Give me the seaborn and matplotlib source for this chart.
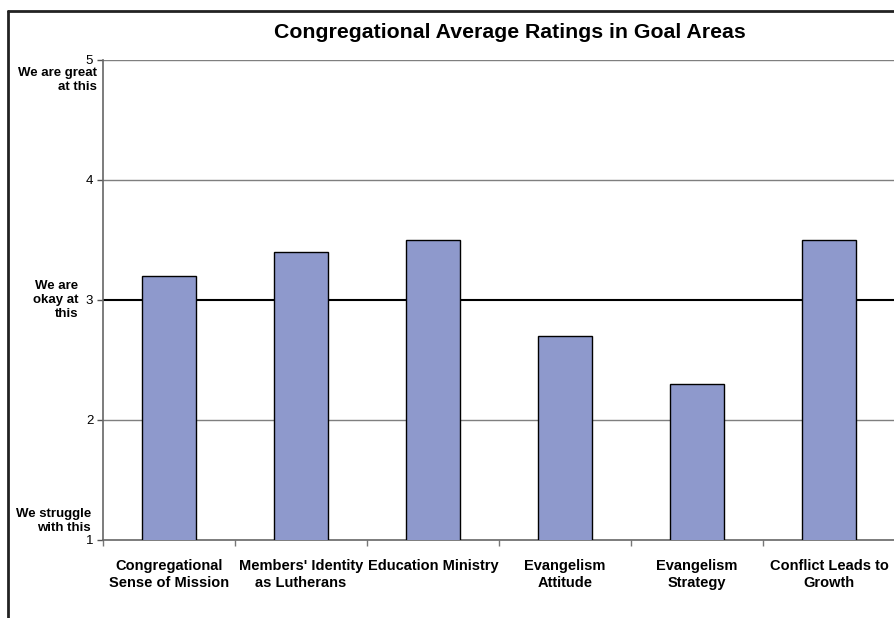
import matplotlib.pyplot as plt
import seaborn as sns
import pandas as pd
from matplotlib.lines import Line2D

# data
categories = ["Congregational\nSense of Mission", "Members' Identity\nas Lutherans",
              "Education Ministry", "Evangelism\nAttitude", "Evangelism\nStrategy",
              "Conflict Leads to\nGrowth"]
ratings = [3.2, 3.4, 3.5, 2.7, 2.3, 3.5]
y_ticks = [1, 2, 3, 4, 5]

df = pd.DataFrame({"area": categories, "rating": ratings})

sns.set_style("white")
plt.rcParams['font.family'] = ['Liberation Sans', 'DejaVu Sans']
plt.rcParams['text.color'] = 'black'
plt.rcParams['xtick.color'] = 'black'
plt.rcParams['ytick.color'] = 'black'

fig = plt.figure(figsize=(8.95, 6.18), dpi=100)
ax = fig.add_axes([103 / 895, 1 - 540 / 618, 792 / 895, 480 / 618])

sns.barplot(data=df, x="area", y="rating", color="#8E99CC", saturation=1,
            width=0.41, edgecolor="black", linewidth=1, ax=ax, zorder=3)

ax.set_ylim(1, 5)
ax.set_xlim(-0.5, len(categories) - 0.5)

# gridlines
for v in [2, 4, 5]:
    ax.axhline(v, color="#7f7f7f", linewidth=1, zorder=1)
ax.axhline(3, color="black", linewidth=1.5, zorder=1)

ax.set_yticks(y_ticks)
ax.set_yticklabels([str(t) for t in y_ticks], fontsize=9.5)
ax.tick_params(axis="y", direction="out", length=4, width=1, color="#555555", pad=3, left=True)
ax.set_xticks(range(len(categories)))
ax.set_xticklabels(categories, fontsize=10.5, fontweight="bold")
ax.tick_params(axis="x", length=0, pad=14)
ax.set_xticks([i + 0.5 for i in range(-1, len(categories))], minor=True)
ax.tick_params(axis="x", which="minor", direction="out", length=4, width=1, color="#777777", bottom=True)

for s in ["top", "right"]:
    ax.spines[s].set_visible(False)
for s in ["left", "bottom"]:
    ax.spines[s].set_color("#666666")
    ax.spines[s].set_linewidth(1.2)

ax.set_xlabel("")
ax.set_ylabel("")

# descriptive labels beside the axis
tr = ax.get_yaxis_transform()
ax.text(-0.0076, 4.94, "We are great\nat this", transform=tr, ha="right", va="top",
        fontsize=9.5, fontweight="bold", linespacing=1.25)
ax.text(-0.031, 3.0, "We are\nokay at\nthis", transform=tr, ha="right", va="center",
        fontsize=9.5, fontweight="bold", linespacing=1.25)
ax.text(-0.015, 1.05, "We struggle\nwith this", transform=tr, ha="right", va="bottom",
        fontsize=9.5, fontweight="bold", linespacing=1.25)

fig.text(510 / 895, 1 - 33 / 618, "Congregational Average Ratings in Goal Areas",
         ha="center", va="center", fontsize=15.3, fontweight="bold")

# outer frame
fig.add_artist(Line2D([8 / 895, 8 / 895], [0, 1 - 11 / 618], transform=fig.transFigure,
                      color="#222222", linewidth=2))
fig.add_artist(Line2D([8 / 895, 1], [1 - 11 / 618, 1 - 11 / 618], transform=fig.transFigure,
                      color="#222222", linewidth=2))

fig.savefig("out.png", dpi=100)
